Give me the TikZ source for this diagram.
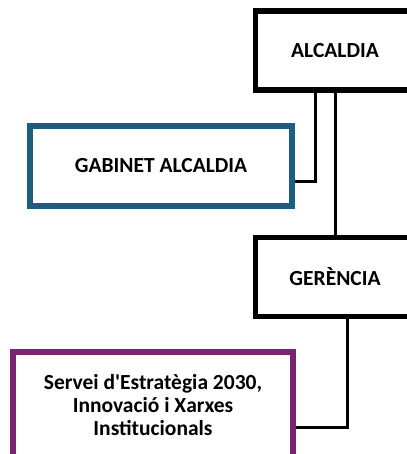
\documentclass[tikz,border=0pt]{standalone}
\usepackage{fontspec}
\setmainfont{Carlito}[Ligatures=TeXOff]
\definecolor{gabblue}{HTML}{1B5E80}
\definecolor{srvpurple}{HTML}{7A2471}
\tikzset{
  orgbox/.style={draw, line width=5.5pt, fill=white, align=center, font=\bfseries\fontsize{21.5}{23}\selectfont, inner sep=0pt},
  conn/.style={draw=black, line width=3pt}
}
\begin{document}
\begin{tikzpicture}[x=1pt,y=-1pt]
\useasboundingbox (0,0) rectangle (406,454);
\node[orgbox, minimum width=159pt, minimum height=79pt] (alc) at (335,50.5) {ALCALDIA};
\node[orgbox, draw=gabblue, minimum width=262pt, minimum height=80pt] (gab) at (161,166) {GABINET ALCALDIA};
\node[orgbox, minimum width=159pt, minimum height=79pt] (ger) at (335,277) {GERÈNCIA};
\node[orgbox, draw=srvpurple, minimum width=280pt, minimum height=106pt] (srv) at (153,405) {Servei d'Estratègia 2030,\\Innovació i Xarxes\\Institucionals};
\coordinate (c1) at (315,182);
\coordinate (c2) at (347,427);
\draw[conn] (alc.south -| c1) -- (c1) -- (gab.east |- c1);
\draw[conn] (alc.south -| ger.north) -- (ger.north);
\draw[conn] (ger.south -| c2) -- (c2) -- (srv.east |- c2);
\end{tikzpicture}
\end{document}
